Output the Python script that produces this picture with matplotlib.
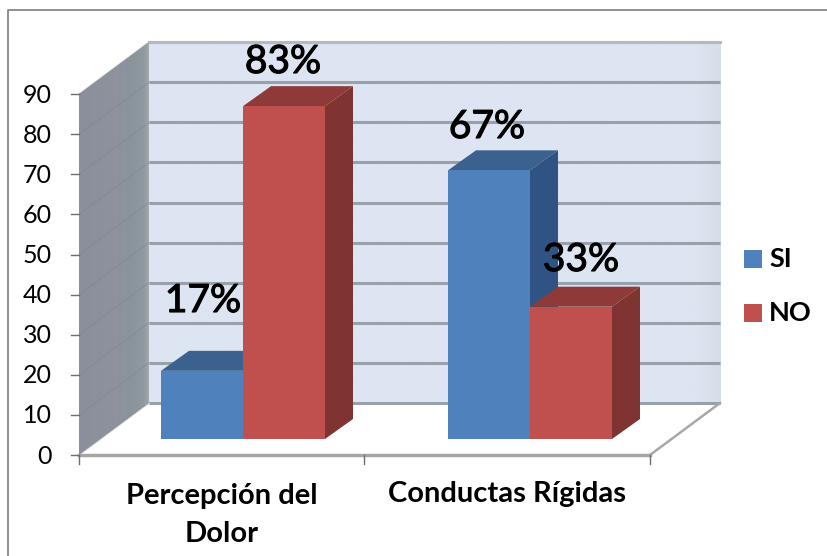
import matplotlib
matplotlib.use('Agg')
import numpy as np
import matplotlib.pyplot as plt
import matplotlib.patheffects as pe
from matplotlib.patches import Polygon, Rectangle

categories = ['Percepción del\nDolor', 'Conductas Rígidas']
series_names = ['SI', 'NO']
si_values = [17, 67]
no_values = [83, 33]
si_labels = ['17%', '67%']
no_labels = ['83%', '33%']
y_ticks = [0, 10, 20, 30, 40, 50, 60, 70, 80, 90]

plt.rcParams['font.family'] = ['Lato', 'DejaVu Sans']

fig = plt.figure(figsize=(8.28, 5.56), dpi=100)
ax = fig.add_axes([0, 0, 1, 1])
ax.axis('off')

# frame of the chart, only left and top are inside the picture
ax.plot([8.5, 8.5, 828], [556, 10, 10], color='#8f8f8f', lw=1.4, zorder=1)

# projection numbers, pixels
x0, x1 = 79, 650
y0 = 455
unit = 4.01
wall_dx, wall_dy = 70, -52
cat_w = (x1 - x0) / len(categories)
bar_w = 82
bar_off = [82, 83.5]
bar_dy = -16  # front of bars is a bit behind the axis
depth_dx, depth_dy = 28, -20


def yv(v):
    return y0 - v * unit


top = y_ticks[-1]

# back wall
grad = np.linspace(0, 1, 200).reshape(1, -1)
cm = matplotlib.colors.LinearSegmentedColormap.from_list(
    'w', [(0, '#dce5f1'), (0.96, '#dde5f1'), (1, '#d6deea')])
ax.imshow(grad, extent=[x0 + wall_dx, x1 + wall_dx + 1, yv(0) + wall_dy, yv(top) + wall_dy],
          cmap=cm, aspect='auto', zorder=1)

# side wall
side_pts = [(x0, yv(0)), (x0 + wall_dx, yv(0) + wall_dy), (x0 + wall_dx, yv(top) + wall_dy), (x0, yv(top))]
side = Polygon(side_pts, fc='none', ec='none', zorder=2)
ax.add_patch(side)
cm2 = matplotlib.colors.LinearSegmentedColormap.from_list(
    's', [(0, '#8b8f9b'), (0.5, '#8e929d'), (0.75, '#8a949c'), (0.93, '#8f999f'), (1, '#a3a8ac')])
im = ax.imshow(grad, extent=[x0, x0 + wall_dx, yv(0), yv(top) + wall_dy], cmap=cm2, aspect='auto', zorder=2)
im.set_clip_path(side)
ax.set_xlim(0, 828)
ax.set_ylim(556, 0)

# floor
ax.add_patch(Polygon([(x0, yv(0)), (x1, yv(0)), (x1 + wall_dx, yv(0) + wall_dy), (x0 + wall_dx, yv(0) + wall_dy)],
                     fc='white', ec='none', zorder=2))

# grid on the walls
for v in y_ticks:
    ax.plot([x0 + wall_dx, x1 + wall_dx], [yv(v) + wall_dy] * 2, color='#98a1ab', lw=2.2, zorder=3,
            solid_capstyle='butt')
    ax.plot([x0, x0 + wall_dx], [yv(v), yv(v) + wall_dy], color='#7f848c', lw=1, alpha=0.4, zorder=3)
ax.plot([x0 + wall_dx, x1 + wall_dx], [yv(top) + wall_dy] * 2, color='#b4bac0', lw=2.2, zorder=3)
ax.plot([x1, x1 + wall_dx], [yv(0), yv(0) + wall_dy], color='#a8a8a8', lw=1.8, zorder=3)

# axis lines and ticks
ax.plot([x0, x1], [yv(0), yv(0)], color='#a6a6a6', lw=2.5, zorder=3)
for v in y_ticks:
    ax.plot([x0 - 8, x0], [yv(v), yv(v)], color='#6e6e6e', lw=1, zorder=3)
    ax.text(x0 - 27, yv(v) + 1, str(v), fontsize=18, ha='right', va='center', color='black', zorder=6)
for i in range(len(categories) + 1):
    ax.plot([x0 + i * cat_w] * 2, [yv(0), yv(0) + 9], color='#6e6e6e', lw=1, zorder=3)


def draw_bar(x, v, face, topc, sidec, z):
    yb = yv(0) + bar_dy
    yt = yb - v * unit
    ax.add_patch(Polygon([(x + bar_w, yb), (x + bar_w + depth_dx, yb + depth_dy),
                          (x + bar_w + depth_dx, yt + depth_dy), (x + bar_w, yt)], fc=sidec, ec='none', zorder=z))
    ax.add_patch(Polygon([(x, yt), (x + depth_dx, yt + depth_dy), (x + bar_w + depth_dx, yt + depth_dy),
                          (x + bar_w, yt)], fc=topc, ec='none', zorder=z))
    ax.add_patch(Rectangle((x, yt), bar_w, yb - yt, fc=face, ec='none', zorder=z + 0.1))


for i in range(len(categories)):
    xs = x0 + i * cat_w + bar_off[i]
    draw_bar(xs, si_values[i], '#4f81bd', '#3b618f', '#2f5484', 4 + i * 0.2)
    draw_bar(xs + bar_w, no_values[i], '#c0504d', '#8e3a38', '#7f3431', 4.1 + i * 0.2)

# data labels
label_x = [[203, 283], [487, 581]]
label_y = [[301, 62], [127, 260]]
thick = [pe.withStroke(linewidth=0.8, foreground='black')]
for i in range(len(categories)):
    ax.text(label_x[i][0], label_y[i][0], si_labels[i], fontsize=28, ha='center', va='center', zorder=7,
            path_effects=thick)
    ax.text(label_x[i][1], label_y[i][1], no_labels[i], fontsize=28, ha='center', va='center', zorder=7,
            path_effects=thick)

# category labels
ax.text(222, 515, categories[0], fontsize=21, fontweight='bold', ha='center', va='center', linespacing=1.55)
ax.text(507, 494, categories[1], fontsize=21, fontweight='bold', ha='center', va='center')

# legend
for name, c, yy in zip(series_names, ['#4f81bd', '#c0504d'], [250, 304]):
    ax.add_patch(Rectangle((744, yy), 18, 18, fc=c, ec='none', zorder=5))
    ax.text(769, yy + 9, name, fontsize=19.5, fontweight='bold', va='center', ha='left')

fig.savefig('out.png', dpi=100)
